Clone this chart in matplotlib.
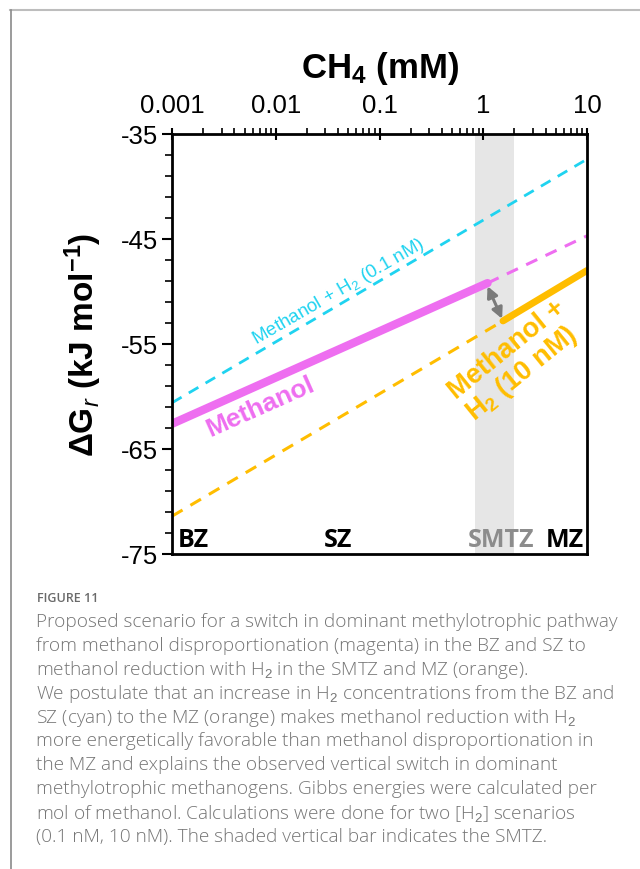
import numpy as np
import matplotlib
matplotlib.use("Agg")
import matplotlib.pyplot as plt
from matplotlib.lines import Line2D
from matplotlib.ticker import LogLocator, FixedLocator, NullFormatter

# ---------------------------------------------------------------
# data (CH4 in mM, dG in kJ/mol)
# ---------------------------------------------------------------
ch4_range = [0.001, 10]
methanol_solid_x = [0.001, 1.1]
methanol_solid_y = [-62.6, -49.2]
methanol_dash_x = [1.1, 10]
methanol_dash_y = [-49.2, -44.7]
h2_low_x = [0.001, 10]
h2_low_y = [-60.6, -37.4]
h2_high_dash_x = [0.001, 1.55]
h2_high_dash_y = [-71.4, -52.8]
h2_high_solid_x = [1.55, 10]
h2_high_solid_y = [-52.8, -48.0]
smtz_band = [0.83, 2.0]
arrow_start = (1.1, -49.5)
arrow_end = (1.52, -52.6)

zone_labels = ["BZ", "SZ", "SMTZ", "MZ"]
zone_x = [0.00113, 0.04, 1.5, 6.1]
zone_colors = ["black", "black", "#8c8c8c", "black"]

magenta = "#ee6ef0"
cyan = "#1fd3f0"
orange = "#ffbd00"

caption = [
    "Proposed scenario for a switch in dominant methylotrophic pathway",
    "from methanol disproportionation (magenta) in the BZ and SZ to",
    "methanol reduction with H$_2$ in the SMTZ and MZ (orange).",
    "We postulate that an increase in H$_2$ concentrations from the BZ and",
    "SZ (cyan) to the MZ (orange) makes methanol reduction with H$_2$",
    "more energetically favorable than methanol disproportionation in",
    "the MZ and explains the observed vertical switch in dominant",
    "methylotrophic methanogens. Gibbs energies were calculated per",
    "mol of methanol. Calculations were done for two [H$_2$] scenarios",
    "(0.1 nM, 10 nM). The shaded vertical bar indicates the SMTZ.",
]

plt.rcParams['font.family'] = ['Liberation Sans', 'DejaVu Sans']
plt.rcParams['axes.unicode_minus'] = False
plt.rcParams['mathtext.fontset'] = 'custom'
plt.rcParams['mathtext.rm'] = 'Liberation Sans'
plt.rcParams['mathtext.it'] = 'Liberation Sans:italic'
plt.rcParams['mathtext.bf'] = 'Liberation Sans:bold'

fig = plt.figure(figsize=(6.4, 8.7), dpi=100)
ax = fig.add_axes([172 / 640, 1 - 555 / 870, 415 / 640, 420 / 870])

# shaded SMTZ bar
ax.axvspan(smtz_band[0], smtz_band[1], color="#e6e6e6", zorder=0, lw=0)

# lines
ax.plot(h2_low_x, h2_low_y, color=cyan, lw=2, ls=(0, (4, 3)))
ax.plot(methanol_dash_x, methanol_dash_y, color=magenta, lw=2.2, ls=(0, (4, 3)))
ax.plot(methanol_solid_x, methanol_solid_y, color=magenta, lw=6, solid_capstyle='round')
ax.plot(h2_high_dash_x, h2_high_dash_y, color=orange, lw=2.2, ls=(0, (4, 3)))
ax.plot(h2_high_solid_x, h2_high_solid_y, color=orange, lw=5, solid_capstyle='round')

ax.annotate("", xy=arrow_end, xytext=arrow_start,
            arrowprops=dict(arrowstyle="<|-|>", color="#7a7a7a", lw=2.2,
                            mutation_scale=16, shrinkA=0, shrinkB=0))

# line labels
ax.text(0.0071, -60.9, "Methanol", color=magenta, fontsize=19, fontweight='bold',
        rotation=24, ha='center', va='center')
ax.text(0.04, -49.9, "Methanol + H$_2$ (0.1 nM)", color=cyan, fontsize=13.5,
        rotation=30, ha='center', va='center')
ax.text(2.1, -56.6, "Methanol +\nH$_\\mathbf{2}$ (10 nM)", color=orange, fontsize=19.5,
        fontweight='bold', rotation=39, ha='center', va='center', linespacing=1.0,
        multialignment='left')

# zone labels
for lab, xx, cc in zip(zone_labels, zone_x, zone_colors):
    ax.text(xx, -73.6, lab, color=cc, fontsize=18, fontweight='bold',
            ha='left' if lab == "BZ" else 'center', va='center',
            family=['Open Sans', 'DejaVu Sans'])

# axes setup
ax.set_xscale('log')
ax.set_xlim(ch4_range)
ax.set_ylim(-75, -35)
ax.xaxis.tick_top()
ax.xaxis.set_label_position('top')
ax.set_xticks([0.001, 0.01, 0.1, 1, 10])
ax.set_xticklabels(["0.001", "0.01", "0.1", "1", "10"])
ax.xaxis.set_minor_locator(LogLocator(base=10, subs=np.arange(2, 10)))
ax.xaxis.set_minor_formatter(NullFormatter())
ax.set_yticks(np.arange(-75, -34, 10))
ax.yaxis.set_minor_locator(FixedLocator(np.arange(-75, -34, 2)))
ax.tick_params(axis='x', which='major', direction='inout', length=8, width=1.5,
               labelsize=18.5, pad=8, top=True, bottom=False)
ax.tick_params(axis='x', which='minor', direction='out', length=4, width=1.2,
               top=True, bottom=False)
ax.tick_params(axis='y', which='major', direction='out', length=7, width=1.5,
               labelsize=18.5, pad=3)
ax.tick_params(axis='y', which='minor', direction='out', length=5, width=1.2)
for s in ax.spines.values():
    s.set_linewidth(2)

ax.set_xlabel("CH$_\\mathbf{4}$ (mM)", fontsize=25, fontweight='bold', labelpad=12)
ax.set_ylabel("ΔG$_\\mathbf{\\mathit{r}}$ (kJ mol$^\\mathbf{-1}$)", fontsize=24,
              fontweight='bold')
ax.yaxis.set_label_coords(-0.165, 0.5)

# page frame lines
fig.add_artist(Line2D([10 / 640, 1], [1 - 11 / 870, 1 - 11 / 870], color="#bdbdbd", lw=1.5))
fig.add_artist(Line2D([10.5 / 640, 10.5 / 640], [0, 1 - 11 / 870], color="#8a8a8a", lw=1.2))

# caption
cap_font = ['Open Sans', 'DejaVu Sans']
fig.text(37 / 640, 1 - 599 / 870, "FIGURE 11", fontsize=9, color="#6a6a6a",
         family=cap_font, fontweight='semibold', va='center', ha='left')
for i, line in enumerate(caption):
    fig.text(36 / 640, 1 - (622 + i * 23.9) / 870, line, fontsize=13.7, color="#757575",
             family=cap_font, fontweight='light', va='center', ha='left')

fig.savefig("out.png", dpi=100)
